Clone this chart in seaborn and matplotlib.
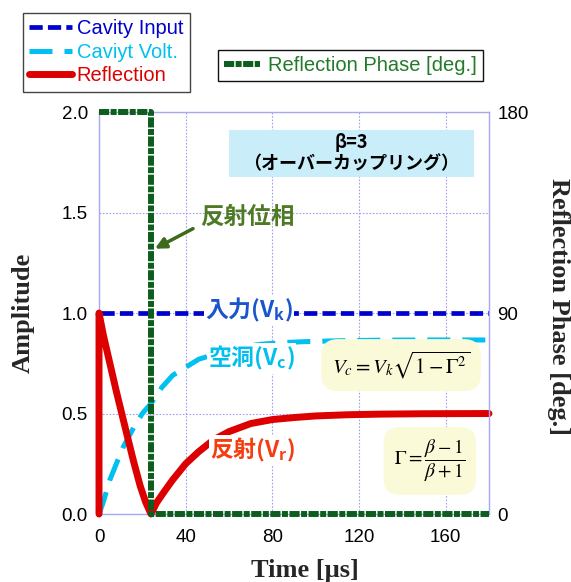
import numpy as np
import pandas as pd
import matplotlib.pyplot as plt
from matplotlib.patches import Rectangle
import seaborn as sns

# ---- data (time in microseconds) ----
t_input = [1, 180]
amp_input = [1.0, 1.0]

t_cavity = [0, 2, 5, 11, 16, 20, 24, 29, 34, 40, 46, 55, 65, 75, 85, 96, 110, 130, 150, 180]
amp_cavity = [0.0, 0.06, 0.17, 0.33, 0.43, 0.5, 0.55, 0.63, 0.69, 0.73, 0.77, 0.80, 0.83, 0.845, 0.853, 0.858, 0.862, 0.865, 0.866, 0.866]

t_refl = [0, 0, 2, 5, 8, 10.5, 13, 16, 19, 21.5, 24, 26.5, 30, 34, 40, 46, 53, 60, 70, 80, 90, 100, 115, 130, 150, 180]
amp_refl = [0.0, 1.0, 0.89, 0.75, 0.61, 0.5, 0.39, 0.26, 0.14, 0.06, 0.0, 0.055, 0.11, 0.17, 0.25, 0.31, 0.37, 0.41, 0.45, 0.47, 0.48, 0.488, 0.494, 0.497, 0.499, 0.5]

t_phase = [0, 24, 24, 180]
deg_phase = [180, 180, 0, 0]

x_ticks = [0, 40, 80, 120, 160]
amp_ticks = [0.0, 0.5, 1.0, 1.5, 2.0]
deg_ticks = [0, 90, 180]

c_input = '#0000cc'
c_cavity = '#00c0f0'
c_refl = '#dd0000'
c_phase = '#0d5e1e'

sns.set_theme(style='white')
plt.rcParams['font.family'] = ['Liberation Sans', 'Noto Sans CJK JP', 'DejaVu Sans']
plt.rcParams['mathtext.fontset'] = 'custom'
plt.rcParams['mathtext.rm'] = 'Noto Sans CJK JP'
plt.rcParams['mathtext.bf'] = 'Noto Sans CJK JP:bold'
plt.rcParams['mathtext.it'] = 'Noto Sans CJK JP'
cjk = ['Noto Sans CJK JP', 'DejaVu Sans']

fig = plt.figure(figsize=(5.71, 5.82), dpi=100)
ax = fig.add_axes([0.1734, 0.1168, 0.6830, 0.6907])
ax2 = ax.twinx()

# lines drawn above the spines, like the reference
sns.lineplot(x=t_input, y=amp_input, ax=ax, estimator=None, sort=False,
             color=c_input, lw=3.4, linestyle=(0, (2.8, 1.1)), clip_on=False, zorder=3)
l_in = ax.lines[-1]
sns.lineplot(x=t_cavity, y=amp_cavity, ax=ax, estimator=None, sort=False,
             color=c_cavity, lw=3.6, linestyle=(0, (4.6, 2.4)), clip_on=False, zorder=3)
l_cav = ax.lines[-1]
sns.lineplot(x=t_refl, y=amp_refl, ax=ax, estimator=None, sort=False,
             color=c_refl, lw=5.0, solid_joinstyle='round', clip_on=False, zorder=3)
l_ref = ax.lines[-1]
sns.lineplot(x=t_phase, y=deg_phase, ax=ax2, estimator=None, sort=False,
             color=c_phase, lw=4.3, linestyle=(0, (1.7, 0.25, 1.0, 0.25)), clip_on=False, zorder=3)
l_ph = ax2.lines[-1]

# axes
ax.set_xlim(0, 180)
ax.set_ylim(0, 2.0)
ax2.set_ylim(0, 180)
ax.set_xticks(x_ticks)
ax.set_yticks(amp_ticks)
ax.set_yticklabels([f'{v:.1f}' for v in amp_ticks])
ax2.set_yticks(deg_ticks)
ax.set_axisbelow(True)
ax.grid(True, color='#a0a0f0', linestyle=(0, (1.5, 1.5)), linewidth=0.8)
for s in ax.spines.values():
    s.set_color('#a8a8f0')
    s.set_linewidth(1.0)
ax.spines['right'].set_visible(False)
for side in ['left', 'top', 'bottom']:
    ax2.spines[side].set_visible(False)
ax2.spines['right'].set_color('#a8a8f0')
ax2.spines['right'].set_linewidth(1.0)
ax2.spines['right'].set_zorder(1)
ax.tick_params(axis='y', length=0, pad=8, labelsize=13.5, colors='black')
ax.tick_params(axis='x', length=0, pad=11, labelsize=13.5, colors='black')
ax2.tick_params(axis='y', length=0, pad=6, labelsize=13.5, colors='black')

lab_font = dict(family='Liberation Serif', weight='bold', size=19)
ax.set_xlabel('Time [µs]', fontdict=lab_font)
ax.set_ylabel('Amplitude', fontdict=lab_font)
ax2.set_ylabel('Reflection Phase [deg.]', fontdict=lab_font, rotation=270, va='bottom')
ax.xaxis.set_label_coords(0.528, -0.111)
ax.yaxis.set_label_coords(-0.166, 0.5)
ax2.yaxis.set_label_coords(1.148, 0.515)

# in-plot labels
ax.text(48.9, 1.015, '入力(V$_\\mathbf{k}$)', family=cjk, weight='bold', size=16.5,
        color='#1a55cc', ha='left', va='center', zorder=4,
        bbox=dict(facecolor='white', edgecolor='none', pad=1))
ax.text(50.3, 0.776, '空洞(V$_\\mathbf{c}$)', family=cjk, weight='bold', size=16.5,
        color='#00c0f0', ha='left', va='center', zorder=4,
        bbox=dict(facecolor='white', edgecolor='none', pad=1))
ax.text(51.2, 0.318, '反射(V$_\\mathbf{r}$)', family=cjk, weight='bold', size=16.5,
        color='#f53d10', ha='left', va='center', zorder=4,
        bbox=dict(facecolor='white', edgecolor='none', pad=1))

ax.text(46.6, 1.48, '反射位相', family=cjk, weight='bold', size=17,
        color='#4f7a25', ha='left', va='center', zorder=4)
ax.annotate('', xy=(25.8, 1.32), xytext=(43.4, 1.42), zorder=4,
            arrowprops=dict(arrowstyle='-|>', color='#3d6a1c', lw=2.5,
                            mutation_scale=16, shrinkA=0, shrinkB=0))

ax.add_patch(Rectangle((60, 1.677), 113, 0.233, facecolor='#c9eef9', edgecolor='none', zorder=1.5))
ax.text(116.5, 1.795, 'β=3\n（オーバーカップリング）', family=cjk, weight='bold', size=13,
        color='black', ha='center', va='center', linespacing=1.1, zorder=4)

ax.text(139.4, 0.741, r'$V_c = V_k\sqrt{1-\Gamma^2}$', size=15, math_fontfamily='stix',
        ha='center', va='center', color='black', zorder=4,
        bbox=dict(boxstyle='round,pad=0.5,rounding_size=0.8', facecolor='#fafad8', edgecolor='none'))
ax.text(152.7, 0.264, r'$\Gamma = \dfrac{\beta-1}{\beta+1}$', size=14, math_fontfamily='stix',
        ha='center', va='center', color='black', zorder=4,
        bbox=dict(boxstyle='round,pad=0.55,rounding_size=0.8', facecolor='#fafad8', edgecolor='none'))

# legends
leg1 = fig.legend(handles=[l_in, l_cav, l_ref], labels=['Cavity Input', 'Caviyt Volt.', 'Reflection'],
                  loc='upper left', bbox_to_anchor=(0.040, 0.978), bbox_transform=fig.transFigure,
                  frameon=True, fancybox=False, edgecolor='#444444', framealpha=1,
                  fontsize=14.5, handlelength=2.1, handletextpad=0.25, labelspacing=0.22,
                  borderpad=0.32, borderaxespad=0)
for txt, c in zip(leg1.get_texts(), [c_input, c_cavity, c_refl]):
    txt.set_color(c)
leg1.get_frame().set_linewidth(1.0)

leg2 = fig.legend(handles=[l_ph], labels=['Reflection Phase [deg.]'],
                  loc='upper left', bbox_to_anchor=(0.3818, 0.9141), bbox_transform=fig.transFigure,
                  frameon=True, fancybox=False, edgecolor='#111111', framealpha=1,
                  fontsize=14.5, handlelength=1.8, handletextpad=0.4,
                  borderpad=0.3, borderaxespad=0)
leg2.get_texts()[0].set_color('#237a2a')
leg2.get_frame().set_linewidth(1.0)

fig.savefig('out.png', dpi=100)
